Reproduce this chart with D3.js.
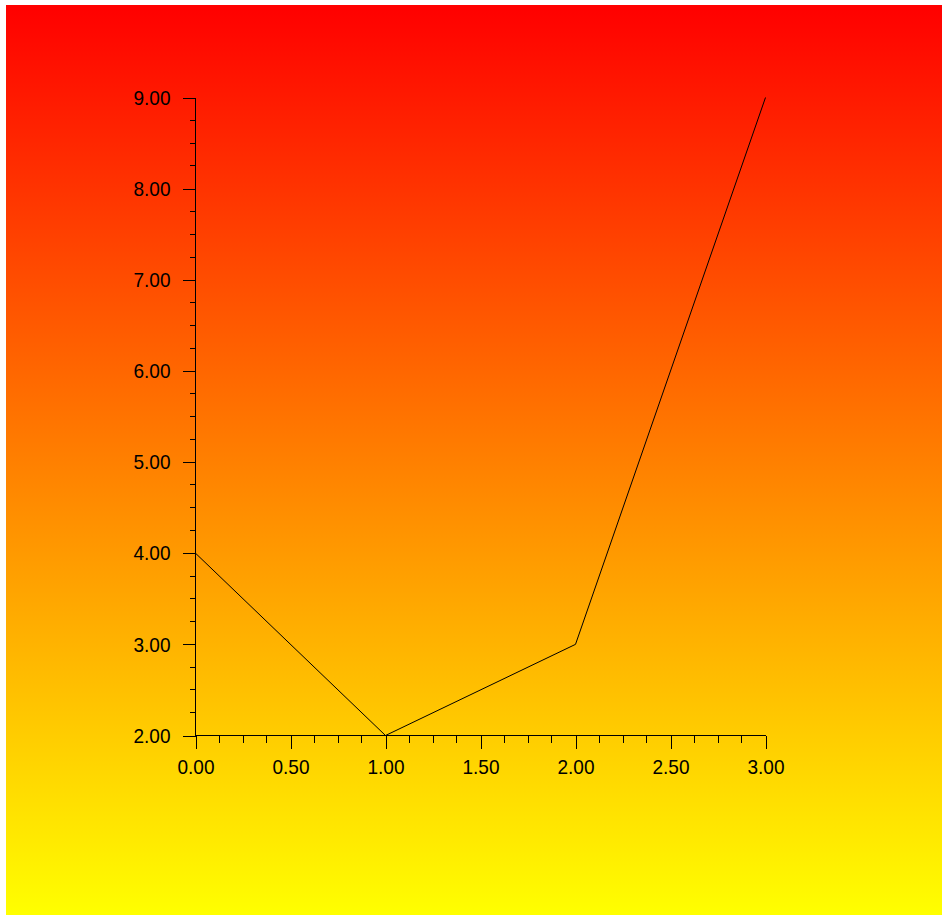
<!DOCTYPE html>
<html>
<head>
<meta charset="utf-8">
<script src="https://cdn.jsdelivr.net/npm/d3@7"></script>
<style>
  html, body { margin: 0; padding: 0; background: #ffffff; }
  svg { display: block; }
</style>
</head>
<body>
<svg id="chart" width="942" height="915"></svg>
<script>
// Data
const xValues = [0, 1, 2, 3];
const yValues = [4, 2, 3, 9];
const xTickValues = [0, 0.5, 1, 1.5, 2, 2.5, 3];
const yTickValues = [2, 3, 4, 5, 6, 7, 8, 9];

const svg = d3.select("#chart");
const W = 942, H = 915;

// Background gradient
const defs = svg.append("defs");
const grad = defs.append("linearGradient").attr("id", "bg")
  .attr("x1", 0).attr("y1", 0).attr("x2", 0).attr("y2", 1);
grad.append("stop").attr("offset", "0%").attr("stop-color", "#ff0000");
grad.append("stop").attr("offset", "100%").attr("stop-color", "#ffff00");
svg.append("rect").attr("x", 6).attr("y", 5).attr("width", W - 6).attr("height", H - 5)
  .attr("fill", "url(#bg)");

// Scales
const x = d3.scaleLinear().domain([0, 3]).range([195.5, 765.5]);
const y = d3.scaleLinear().domain([2, 9]).range([735.5, 97.5]);

const fmt = d3.format(".2f");
const FONT = '"Liberation Sans", Arial, sans-serif';

const xMinor = d3.range(0, 3.0001, 0.125).filter(v => Math.abs(v * 2 - Math.round(v * 2)) > 1e-6);
const yMinor = d3.range(2, 9.0001, 0.25).filter(v => Math.abs(v - Math.round(v)) > 1e-6);

const g = svg.append("g").attr("shape-rendering", "crispEdges");

// X axis
const xAxis = d3.axisBottom(x).tickValues(xTickValues).tickFormat(fmt).tickSize(13).tickPadding(11);
const xg = g.append("g").attr("transform", `translate(0,${y(2)})`).call(xAxis);
xg.select(".domain").attr("stroke", "#000").attr("d", `M${x(0)},0H${x(3)}`);
xg.selectAll(".tick line").attr("stroke", "#000");
xg.selectAll(".minor").data(xMinor).join("line").attr("class", "minor")
  .attr("x1", d => x(d)).attr("x2", d => x(d)).attr("y1", 0).attr("y2", 7).attr("stroke", "#000");

// Y axis
const yAxis = d3.axisLeft(y).tickValues(yTickValues).tickFormat(fmt).tickSize(13).tickPadding(12);
const yg = g.append("g").attr("transform", `translate(${x(0)},0)`).call(yAxis);
yg.select(".domain").attr("stroke", "#000").attr("d", `M0,${y(9)}V${y(2)}`);
yg.selectAll(".tick line").attr("stroke", "#000");
yg.selectAll(".minor").data(yMinor).join("line").attr("class", "minor")
  .attr("y1", d => y(d)).attr("y2", d => y(d)).attr("x1", 0).attr("x2", -6).attr("stroke", "#000");

svg.selectAll(".tick text")
  .attr("fill", "#000")
  .attr("textLength", 37)
  .attr("lengthAdjust", "spacingAndGlyphs")
  .style("font-family", FONT)
  .style("font-size", "21px");

// Line
const pts = xValues.map((v, i) => [v, yValues[i]]);
svg.append("path").datum(pts)
  .attr("fill", "none").attr("stroke", "#000").attr("stroke-width", 1)
  .attr("d", d3.line().x(d => x(d[0])).y(d => y(d[1])));
</script>
</body>
</html>
